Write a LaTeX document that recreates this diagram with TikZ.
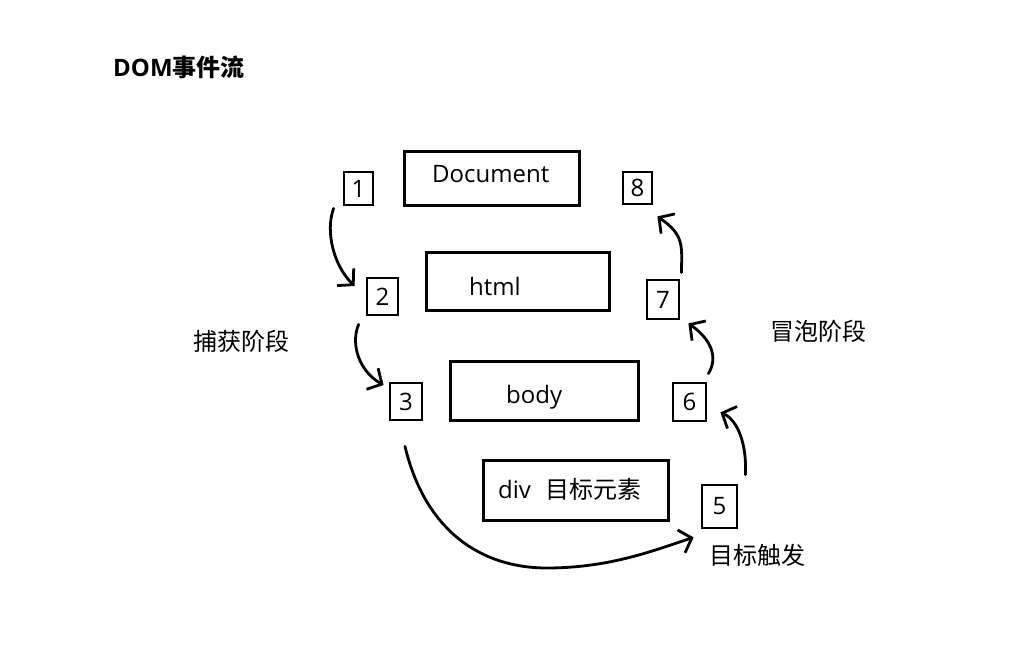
\documentclass[tikz,border=0pt]{standalone}
\usepackage{fontspec}
\setmainfont{Open Sans}
\newfontfamily\cjk{Noto Sans CJK SC}
\usetikzlibrary{arrows.meta}
\begin{document}
\begin{tikzpicture}[x=1pt,y=-1pt,
  box/.style={draw, line width=3pt, inner sep=0pt},
  num/.style={draw, line width=2.8pt, inner sep=0pt, font=\fontsize{24}{28}\selectfont},
  txt/.style={inner sep=0pt, font=\fontsize{24}{28}\selectfont},
  flow/.style={line width=2.8pt, line cap=round, -{Straight Barb[length=11pt,width=24pt]}}]
\useasboundingbox[fill=white] (0,0) rectangle (1026,671);

\node[anchor=base west, inner sep=0pt, font=\fontsize{24}{28}\selectfont\bfseries] (title) at (113,77) {DOM{\cjk 事件流}};

\node[box, minimum width=175pt, minimum height=54pt] (doc) at (491.5,179) {};
\node[txt, anchor=base west] (doct) at (432,183) {Document};
\node[box, minimum width=183pt, minimum height=57pt] (html) at (517.5,281.5) {};
\node[txt, anchor=base west] (htmlt) at (469,295) {html};
\node[box, minimum width=188pt, minimum height=59pt] (body) at (544,390.5) {};
\node[txt, anchor=base west] (bodyt) at (506,403) {body};
\node[box, minimum width=185pt, minimum height=60pt] (div) at (575.5,490) {};
\node[txt, anchor=base west] (divt) at (498,498) {div\hspace{14pt}{\cjk 目标元素}};

\node[num, minimum width=29pt, minimum height=33pt] (n1) at (358.5,188.5) {1};
\node[num, minimum width=31pt, minimum height=37pt] (n2) at (382.5,296.5) {2};
\node[num, minimum width=32pt, minimum height=37pt] (n3) at (406,401.5) {3};
\node[num, minimum width=35pt, minimum height=43pt] (n5) at (719.5,506.5) {5};
\node[num, minimum width=33pt, minimum height=38pt] (n6) at (689.5,402) {6};
\node[num, minimum width=32pt, minimum height=39pt] (n7) at (663,299.5) {7};
\node[num, minimum width=29pt, minimum height=32pt] (n8) at (637.5,188) {8};

\node[txt, anchor=base west] (cap) at (193,350) {\cjk 捕获阶段};
\node[txt, anchor=base west] (bub) at (770,341) {\cjk 冒泡阶段};
\node[txt, anchor=base west] (tgt) at (709,564) {\cjk 目标触发};

\draw[flow] ([shift={(-9,2)}]n1.south west) .. controls (325,232) and (334,266) .. ([shift={(-11,-10.5)}]n2.west);
\draw[flow] ([shift={(-7,8)}]n2.south west) .. controls (350,345) and (360,372) .. ([shift={(-5,-16.5)}]n3.west);
\draw[flow] ([shift={(-1,25)}]n3.south) .. controls (425,530) and (480,568) .. (547,568) .. controls (610,568) and (655,550) .. ([shift={(-7,8)}]n5.south west);
\draw[flow] ([shift={(7,-9)}]n5.north east) .. controls (747,445) and (738,420) .. ([shift={(13,-10)}]n6.south east);
\draw[flow] ([shift={(1,-8)}]n6.north east) .. controls (718,358) and (712,340) .. ([shift={(8,3)}]n7.south east);
\draw[flow] ([shift={(1,-6)}]n7.north east) .. controls (682,245) and (684,235) .. ([shift={(4,11)}]n8.south east);
\end{tikzpicture}
\end{document}
